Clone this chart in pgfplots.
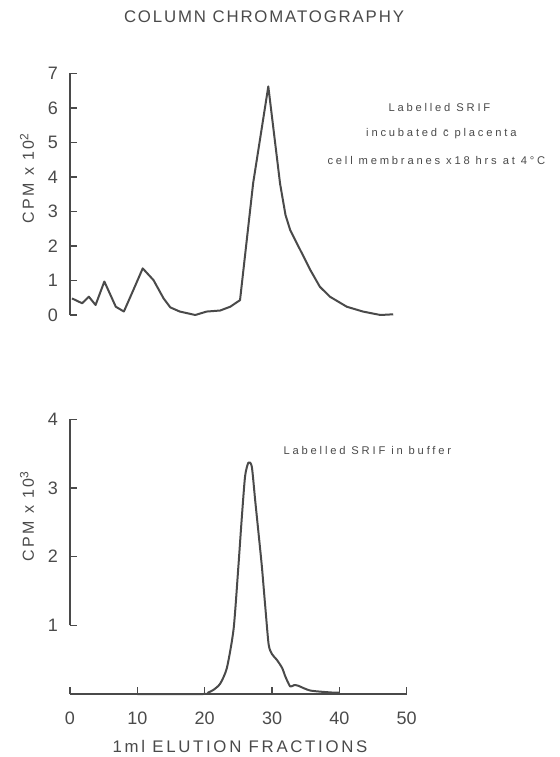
\documentclass[border=0pt]{standalone}
\usepackage{fontspec}
\setmainfont{Liberation Sans}
\newfontfamily\titlefont[LetterSpace=11]{Liberation Sans}
\newfontfamily\annfont[LetterSpace=25]{Liberation Sans}
\newfontfamily\labfont[LetterSpace=16]{Liberation Sans}
\usepackage{pgfplots}
\pgfplotsset{compat=1.18}
\definecolor{ink}{HTML}{4A4A4A}
\begin{document}
\begin{tikzpicture}
\useasboundingbox (0,0) rectangle (280pt,378.5pt);
\pgfplotsset{common/.style={scale only axis, width=168.35pt, xmin=0, xmax=50,
  axis line style={ink, line width=0.7pt}, tick style={ink, line width=0.7pt},
  tick align=inside, major tick length=3.5pt,
  ticklabel style={font=\fontsize{9}{10}\selectfont, text=ink},
  /pgf/number format/assume math mode=true, clip=false}}

% top panel
\begin{axis}[common, at={(35pt,221pt)}, anchor=south west, height=120.85pt,
  ymin=0, ymax=7, axis x line=none, axis y line*=left, ytick={0,...,7},
  yticklabel style={xshift=-2.5pt}]
\addplot[ink, line width=1pt, line join=round] coordinates {
(0.3,0.48) (1.8,0.34) (2.8,0.53) (3.8,0.29) (5.1,0.97) (6.8,0.24) (8.0,0.10)
(9.4,0.72) (10.8,1.35) (12.4,1.01) (13.9,0.48) (14.9,0.22) (16.3,0.10)
(18.6,0.00) (20.3,0.10) (22.3,0.13) (23.8,0.24) (25.25,0.43) (27.2,3.82)
(29.45,6.62) (31.2,3.8) (32.0,2.9) (32.7,2.46) (34.2,1.88) (35.7,1.3)
(37.1,0.82) (38.6,0.53) (41.1,0.24) (43.5,0.1) (46.1,0.0) (48.0,0.02)};
\end{axis}

% bottom panel
\begin{axis}[common, at={(35pt,31.5pt)}, anchor=south west, height=137.35pt,
  ymin=0, ymax=4, axis x line*=bottom, axis y line*=left,
  y axis line style={draw=none}, ytick={1,2,3,4}, xtick={0,10,...,50},
  xticklabel style={yshift=-5.5pt}, yticklabel style={xshift=-2.5pt}]
\draw[ink, line width=0.7pt] (axis cs:0,1) -- (axis cs:0,4);
\addplot[ink, line width=1.1pt, line cap=round] coordinates {(10,0) (19.8,0)};
\addplot[ink, line width=1pt, smooth, tension=0.4, line join=round] coordinates {
(10,0.0) (19.8,0.0) (20.5,0.02) (21.3,0.06) (22.3,0.15) (23.3,0.38) (24.3,0.95)
(25.0,1.85) (25.5,2.55) (26.0,3.17) (26.5,3.37) (27.0,3.31) (27.5,2.82)
(28.0,2.34) (28.5,1.85) (29.0,1.27) (29.5,0.72) (30.0,0.58) (30.7,0.5)
(31.5,0.38) (32.0,0.25) (32.7,0.11) (33.3,0.13) (33.9,0.12) (35.7,0.05)
(39.1,0.02) (40,0.02)};
\end{axis}

\node[text=ink, font=\titlefont\fontsize{8.4}{10}\selectfont] at (132pt,370.2pt) {COLUMN CHROMATOGRAPHY};
\node[text=ink, font=\annfont\fontsize{5.6}{6}\selectfont] at (219.7pt,325pt) {Labelled SRIF};
\node[text=ink, font=\annfont\fontsize{5.6}{6}\selectfont] at (220.7pt,311.5pt) {incubated \={c} placenta};
\node[text=ink, font=\annfont\fontsize{5.6}{6}\selectfont] at (218.2pt,298.5pt) {cell membranes x18 hrs at 4\textdegree C};
\node[text=ink, font=\annfont\fontsize{5.6}{6}\selectfont] at (183.7pt,153.2pt) {Labelled SRIF in buffer};
\node[text=ink, font=\labfont\fontsize{8.4}{10}\selectfont] at (120pt,5.5pt) {1ml ELUTION FRACTIONS};
\node[text=ink, rotate=90, font=\labfont\fontsize{8}{10}\selectfont] at (13.5pt,289.5pt) {CPM x 10\textsuperscript{2}};
\node[text=ink, rotate=90, font=\labfont\fontsize{8}{10}\selectfont] at (13.5pt,120.5pt) {CPM x 10\textsuperscript{3}};
\end{tikzpicture}
\end{document}
